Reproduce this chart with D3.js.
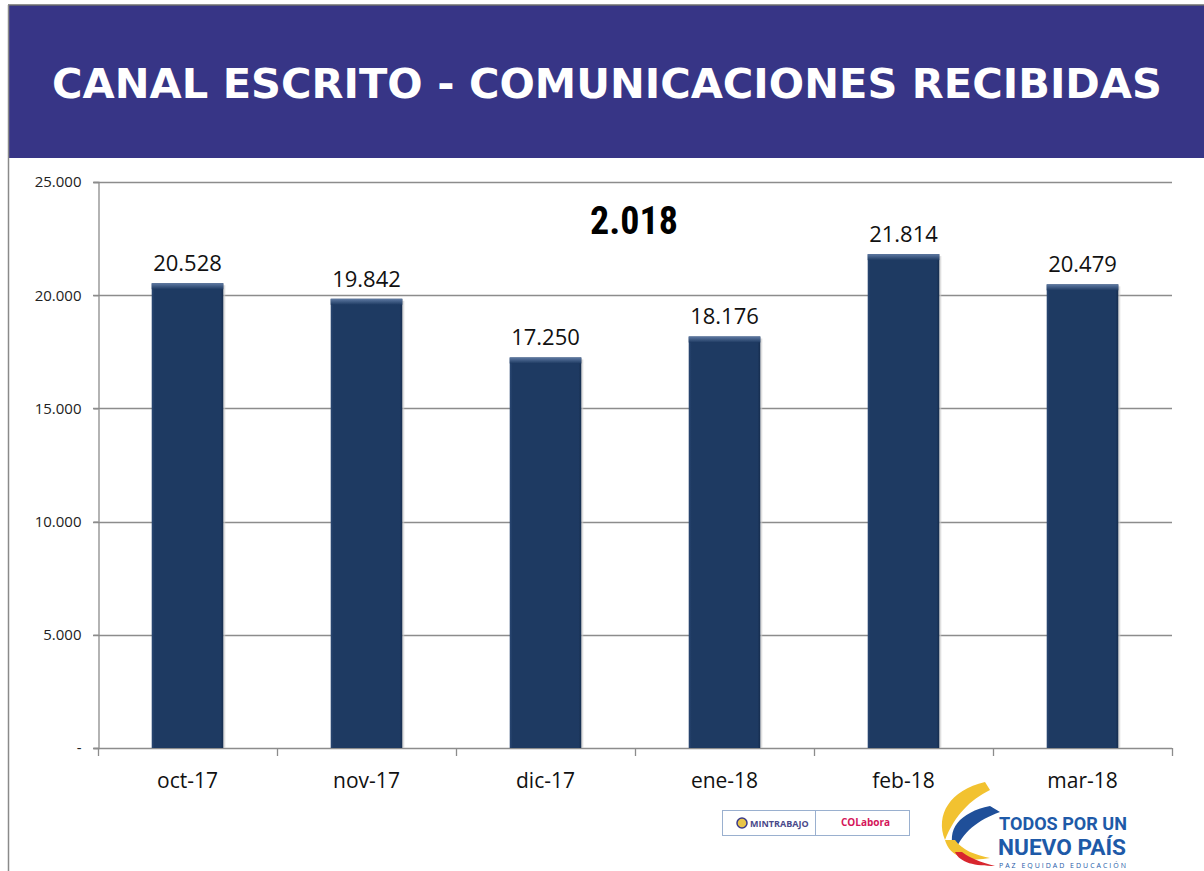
<!DOCTYPE html>
<html>
<head>
<meta charset="utf-8">
<script src="https://cdn.jsdelivr.net/npm/d3@7"></script>
<style>
  body { margin: 0; background: #fff; }
  svg text { font-family: "Open Sans", "Liberation Sans", sans-serif; }
</style>
</head>
<body>
<div id="chart"></div>
<script>
const months = ['oct-17', 'nov-17', 'dic-17', 'ene-18', 'feb-18', 'mar-18'];
const received = [20528, 19842, 17250, 18176, 21814, 20479];
const yTicks = [0, 5000, 10000, 15000, 20000, 25000];

const width = 1204;
const height = 871;
const plot = {left: 98, right: 1172, top: 182, bottom: 748};

let fmt = v => v === 0 ? '-' : d3.format(',')(v).replace(/,/g, '.');

let svg = d3.select('#chart').append('svg')
  .attr('width', width)
  .attr('height', height)

let defs = svg.append('defs')
let grad = defs.append('linearGradient')
  .attr('id', 'barTop')
  .attr('x1', 0).attr('y1', 0).attr('x2', 0).attr('y2', 1)
grad.append('stop').attr('offset', 0).attr('stop-color', '#5f7aa3')
grad.append('stop').attr('offset', 1).attr('stop-color', '#1e3a62')

let side = defs.append('linearGradient')
  .attr('id', 'barSide')
  .attr('x1', 0).attr('y1', 0).attr('x2', 1).attr('y2', 0)
side.append('stop').attr('offset', 0).attr('stop-color', '#2a4772')
side.append('stop').attr('offset', 0.04).attr('stop-color', '#1e3a62')
side.append('stop').attr('offset', 0.96).attr('stop-color', '#1e3a62')
side.append('stop').attr('offset', 1).attr('stop-color', '#162d4e')

// header band
svg.append('rect')
  .attr('x', 8).attr('y', 5)
  .attr('width', width - 8).attr('height', 153)
  .attr('fill', '#373586')
svg.append('line')
  .attr('x1', 8).attr('x2', width).attr('y1', 5).attr('y2', 5)
  .attr('stroke', '#6d6d6d').attr('stroke-width', 1.5)
svg.append('line')
  .attr('x1', 8.5).attr('x2', 8.5).attr('y1', 5).attr('y2', height)
  .attr('stroke', '#8a8a8a').attr('stroke-width', 1.5)

svg.append('text')
  .attr('x', 607).attr('y', 98)
  .attr('text-anchor', 'middle')
  .attr('fill', '#fff')
  .style('font-family', '"DejaVu Sans", Verdana, sans-serif')
  .style('font-weight', 'bold')
  .style('font-size', '40px')
  .attr('textLength', 1110)
  .attr('lengthAdjust', 'spacingAndGlyphs')
  .text('CANAL ESCRITO - COMUNICACIONES RECIBIDAS')

let x = d3.scaleBand()
  .domain(months)
  .range([plot.left, plot.right])
  .paddingInner(0.6)
  .paddingOuter(0.3)

let xTickScale = d3.scaleLinear()
  .domain([0, months.length])
  .range([plot.left, plot.right])

let y = d3.scaleLinear()
  .domain([0, 25000])
  .range([plot.bottom, plot.top])

// gridlines
svg.append('g')
  .selectAll('line')
  .data(yTicks.filter(d => d > 0))
  .join('line')
    .attr('x1', plot.left - 5).attr('x2', plot.right)
    .attr('y1', d => Math.round(y(d)) + 0.5).attr('y2', d => Math.round(y(d)) + 0.5)
    .attr('stroke', '#8c8c8c').attr('stroke-width', 1.3)

// y axis
let yAxis = svg.append('g')
  .attr('transform', `translate(${plot.left + 0.5},0)`)
  .call(d3.axisLeft(y).tickValues(yTicks).tickFormat(fmt).tickSize(5).tickPadding(12))
yAxis.select('.domain').attr('stroke', '#8c8c8c').attr('stroke-width', 1.3)
yAxis.selectAll('.tick line').attr('stroke', '#8c8c8c').attr('stroke-width', 1.3)
yAxis.selectAll('.tick text')
  .attr('fill', '#222')
  .style('font-size', '15px')

// x axis
svg.append('line')
  .attr('x1', plot.left - 5).attr('x2', plot.right)
  .attr('y1', plot.bottom + 0.5).attr('y2', plot.bottom + 0.5)
  .attr('stroke', '#8c8c8c').attr('stroke-width', 1.5)
svg.append('g')
  .selectAll('line')
  .data(d3.range(months.length + 1))
  .join('line')
    .attr('x1', d => Math.round(xTickScale(d)) + 0.5).attr('x2', d => Math.round(xTickScale(d)) + 0.5)
    .attr('y1', plot.bottom).attr('y2', plot.bottom + 8)
    .attr('stroke', '#8c8c8c').attr('stroke-width', 1.3)

svg.append('g')
  .selectAll('text')
  .data(months)
  .join('text')
    .attr('x', d => x(d) + x.bandwidth() / 2)
    .attr('y', 788)
    .attr('text-anchor', 'middle')
    .attr('fill', '#111')
    .style('font-size', '21px')
    .text(d => d)

// bars
let bars = svg.append('g')
  .selectAll('g')
  .data(months.map((m, i) => ({month: m, value: received[i]})))
  .join('g')

bars.append('rect')
  .attr('x', d => x(d.month) + 2)
  .attr('y', d => y(d.value) + 2)
  .attr('width', x.bandwidth())
  .attr('height', d => plot.bottom - y(d.value) - 2)
  .attr('fill', '#c9c9c9')
  .attr('opacity', 0.6)

bars.append('rect')
  .attr('x', d => x(d.month))
  .attr('y', d => y(d.value))
  .attr('width', x.bandwidth())
  .attr('height', d => plot.bottom - y(d.value))
  .attr('fill', 'url(#barSide)')

bars.append('rect')
  .attr('x', d => x(d.month))
  .attr('y', d => y(d.value))
  .attr('width', x.bandwidth())
  .attr('height', 6)
  .attr('fill', 'url(#barTop)')

bars.append('text')
  .attr('x', d => x(d.month) + x.bandwidth() / 2)
  .attr('y', d => y(d.value) - 12)
  .attr('text-anchor', 'middle')
  .attr('fill', '#111')
  .style('font-size', '22px')
  .text(d => fmt(d.value))

svg.append('text')
  .attr('x', 634).attr('y', 234)
  .attr('text-anchor', 'middle')
  .attr('fill', '#000')
  .style('font-family', '"Liberation Sans Narrow", "Roboto Condensed", "Liberation Sans", sans-serif')
  .style('font-weight', 'bold')
  .style('font-size', '38px')
  .text('2.018')

// footer logos
let logo = svg.append('g')
logo.append('rect')
  .attr('x', 722.5).attr('y', 810.5).attr('width', 187).attr('height', 25)
  .attr('fill', '#fff').attr('stroke', '#9ab0cf')
logo.append('line')
  .attr('x1', 815.5).attr('x2', 815.5).attr('y1', 810).attr('y2', 836)
  .attr('stroke', '#9ab0cf')
logo.append('circle')
  .attr('cx', 742).attr('cy', 823).attr('r', 5)
  .attr('fill', '#e8c548').attr('stroke', '#3a3a8a').attr('stroke-width', 1.5)
logo.append('text')
  .attr('x', 750).attr('y', 827)
  .attr('fill', '#4a4a8a')
  .style('font-size', '9px').style('font-weight', 'bold')
  .text('MINTRABAJO')
logo.append('text')
  .attr('x', 841).attr('y', 826)
  .attr('fill', '#d4145a')
  .style('font-size', '10px').style('font-weight', 'bold')
  .text('COLabora')

let flag = svg.append('g')
flag.append('path')
  .attr('d', 'M985,782 C950,790 935,815 945,840 C955,815 970,800 990,790 Z')
  .attr('fill', '#f2c230')
flag.append('path')
  .attr('d', 'M990,806 C960,812 945,830 955,852 C962,832 978,820 1000,812 Z')
  .attr('fill', '#1f4f99')
flag.append('path')
  .attr('d', 'M945,840 C950,858 970,862 990,858 C975,855 962,850 955,840 Z')
  .attr('fill', '#f2c230')
flag.append('path')
  .attr('d', 'M955,852 C960,863 975,866 995,866 C980,862 970,858 962,852 Z')
  .attr('fill', '#d8262e')

flag.append('text')
  .attr('x', 999).attr('y', 830)
  .attr('fill', '#1e5aa8')
  .style('font-family', '"Roboto", sans-serif')
  .style('font-weight', 'bold').style('font-size', '18px')
  .attr('textLength', 128).attr('lengthAdjust', 'spacingAndGlyphs')
  .text('TODOS POR UN')
flag.append('text')
  .attr('x', 998).attr('y', 855)
  .attr('fill', '#1e5aa8')
  .style('font-family', '"Roboto", sans-serif')
  .style('font-weight', 'bold').style('font-size', '22px')
  .attr('textLength', 128).attr('lengthAdjust', 'spacingAndGlyphs')
  .text('NUEVO PAÍS')
flag.append('text')
  .attr('x', 999).attr('y', 868)
  .attr('fill', '#1e5aa8')
  .style('font-size', '7px')
  .attr('textLength', 127).attr('lengthAdjust', 'spacing')
  .text('PAZ  EQUIDAD  EDUCACIÓN')
</script>
</body>
</html>
